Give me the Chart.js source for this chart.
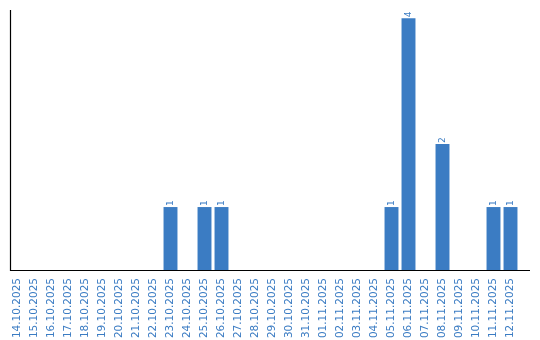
<!DOCTYPE html>
<html>
<head>
<meta charset="utf-8">
<script src="https://cdn.jsdelivr.net/npm/chart.js@4"></script>
<style>
  html, body { margin: 0; padding: 0; background: #fff; }
  #wrap { width: 540px; height: 340px; }
</style>
</head>
<body>
<div id="wrap"><canvas id="barChart" width="540" height="340"></canvas></div>
<script>
// Chart data
const dates = [
    '14.10.2025', '15.10.2025', '16.10.2025', '17.10.2025', '18.10.2025',
    '19.10.2025', '20.10.2025', '21.10.2025', '22.10.2025', '23.10.2025',
    '24.10.2025', '25.10.2025', '26.10.2025', '27.10.2025', '28.10.2025',
    '29.10.2025', '30.10.2025', '31.10.2025', '01.11.2025', '02.11.2025',
    '03.11.2025', '04.11.2025', '05.11.2025', '06.11.2025', '07.11.2025',
    '08.11.2025', '09.11.2025', '10.11.2025', '11.11.2025', '12.11.2025'
];
const counts = [
    0, 0, 0, 0, 0,
    0, 0, 0, 0, 1,
    0, 1, 1, 0, 0,
    0, 0, 0, 0, 0,
    0, 0, 1, 4, 0,
    2, 0, 0, 1, 1
];

const blue = '#3b7cc3';

// Axis lines + rotated value labels above the bars
const axesAndLabels = {
    id: 'axesAndLabels',
    afterDatasetsDraw(chart) {
        const ctx = chart.ctx;
        const area = chart.chartArea;
        ctx.save();
        ctx.strokeStyle = '#000';
        ctx.lineWidth = 1.2;
        ctx.beginPath();
        ctx.moveTo(area.left + 1.5, area.top);
        ctx.lineTo(area.left + 1.5, area.bottom + 0.5);
        ctx.lineTo(530, area.bottom + 0.5);
        ctx.stroke();

        const meta = chart.getDatasetMeta(0);
        ctx.fillStyle = blue;
        ctx.font = '9px "DejaVu Sans"';
        ctx.textAlign = 'left';
        ctx.textBaseline = 'middle';
        meta.data.forEach((bar, i) => {
            const v = counts[i];
            if (!v) return;
            ctx.save();
            ctx.translate(bar.x, bar.y - 1);
            ctx.rotate(-Math.PI / 2);
            ctx.fillText(String(v), 0, 0);
            ctx.restore();
        });
        ctx.restore();
    }
};

const ctx = document.getElementById('barChart').getContext('2d');
new Chart(ctx, {
    type: 'bar',
    data: {
        labels: dates,
        datasets: [{
            data: counts,
            backgroundColor: blue,
            borderWidth: 0,
            barPercentage: 0.82,
            categoryPercentage: 1.0
        }]
    },
    options: {
        responsive: false,
        animation: false,
        layout: {
            padding: { left: 9, right: 21, top: 10, bottom: 2 }
        },
        plugins: {
            legend: { display: false },
            tooltip: { enabled: false }
        },
        scales: {
            x: {
                grid: { display: false },
                border: { display: false },
                afterFit: (scale) => { scale.height = 68; },
                ticks: {
                    color: blue,
                    font: { family: '"DejaVu Sans"', size: 10.5 },
                    minRotation: 90,
                    maxRotation: 90,
                    autoSkip: false,
                    padding: 0
                }
            },
            y: {
                display: false,
                min: 0,
                max: 4.13
            }
        }
    },
    plugins: [axesAndLabels]
});
</script>
</body>
</html>
